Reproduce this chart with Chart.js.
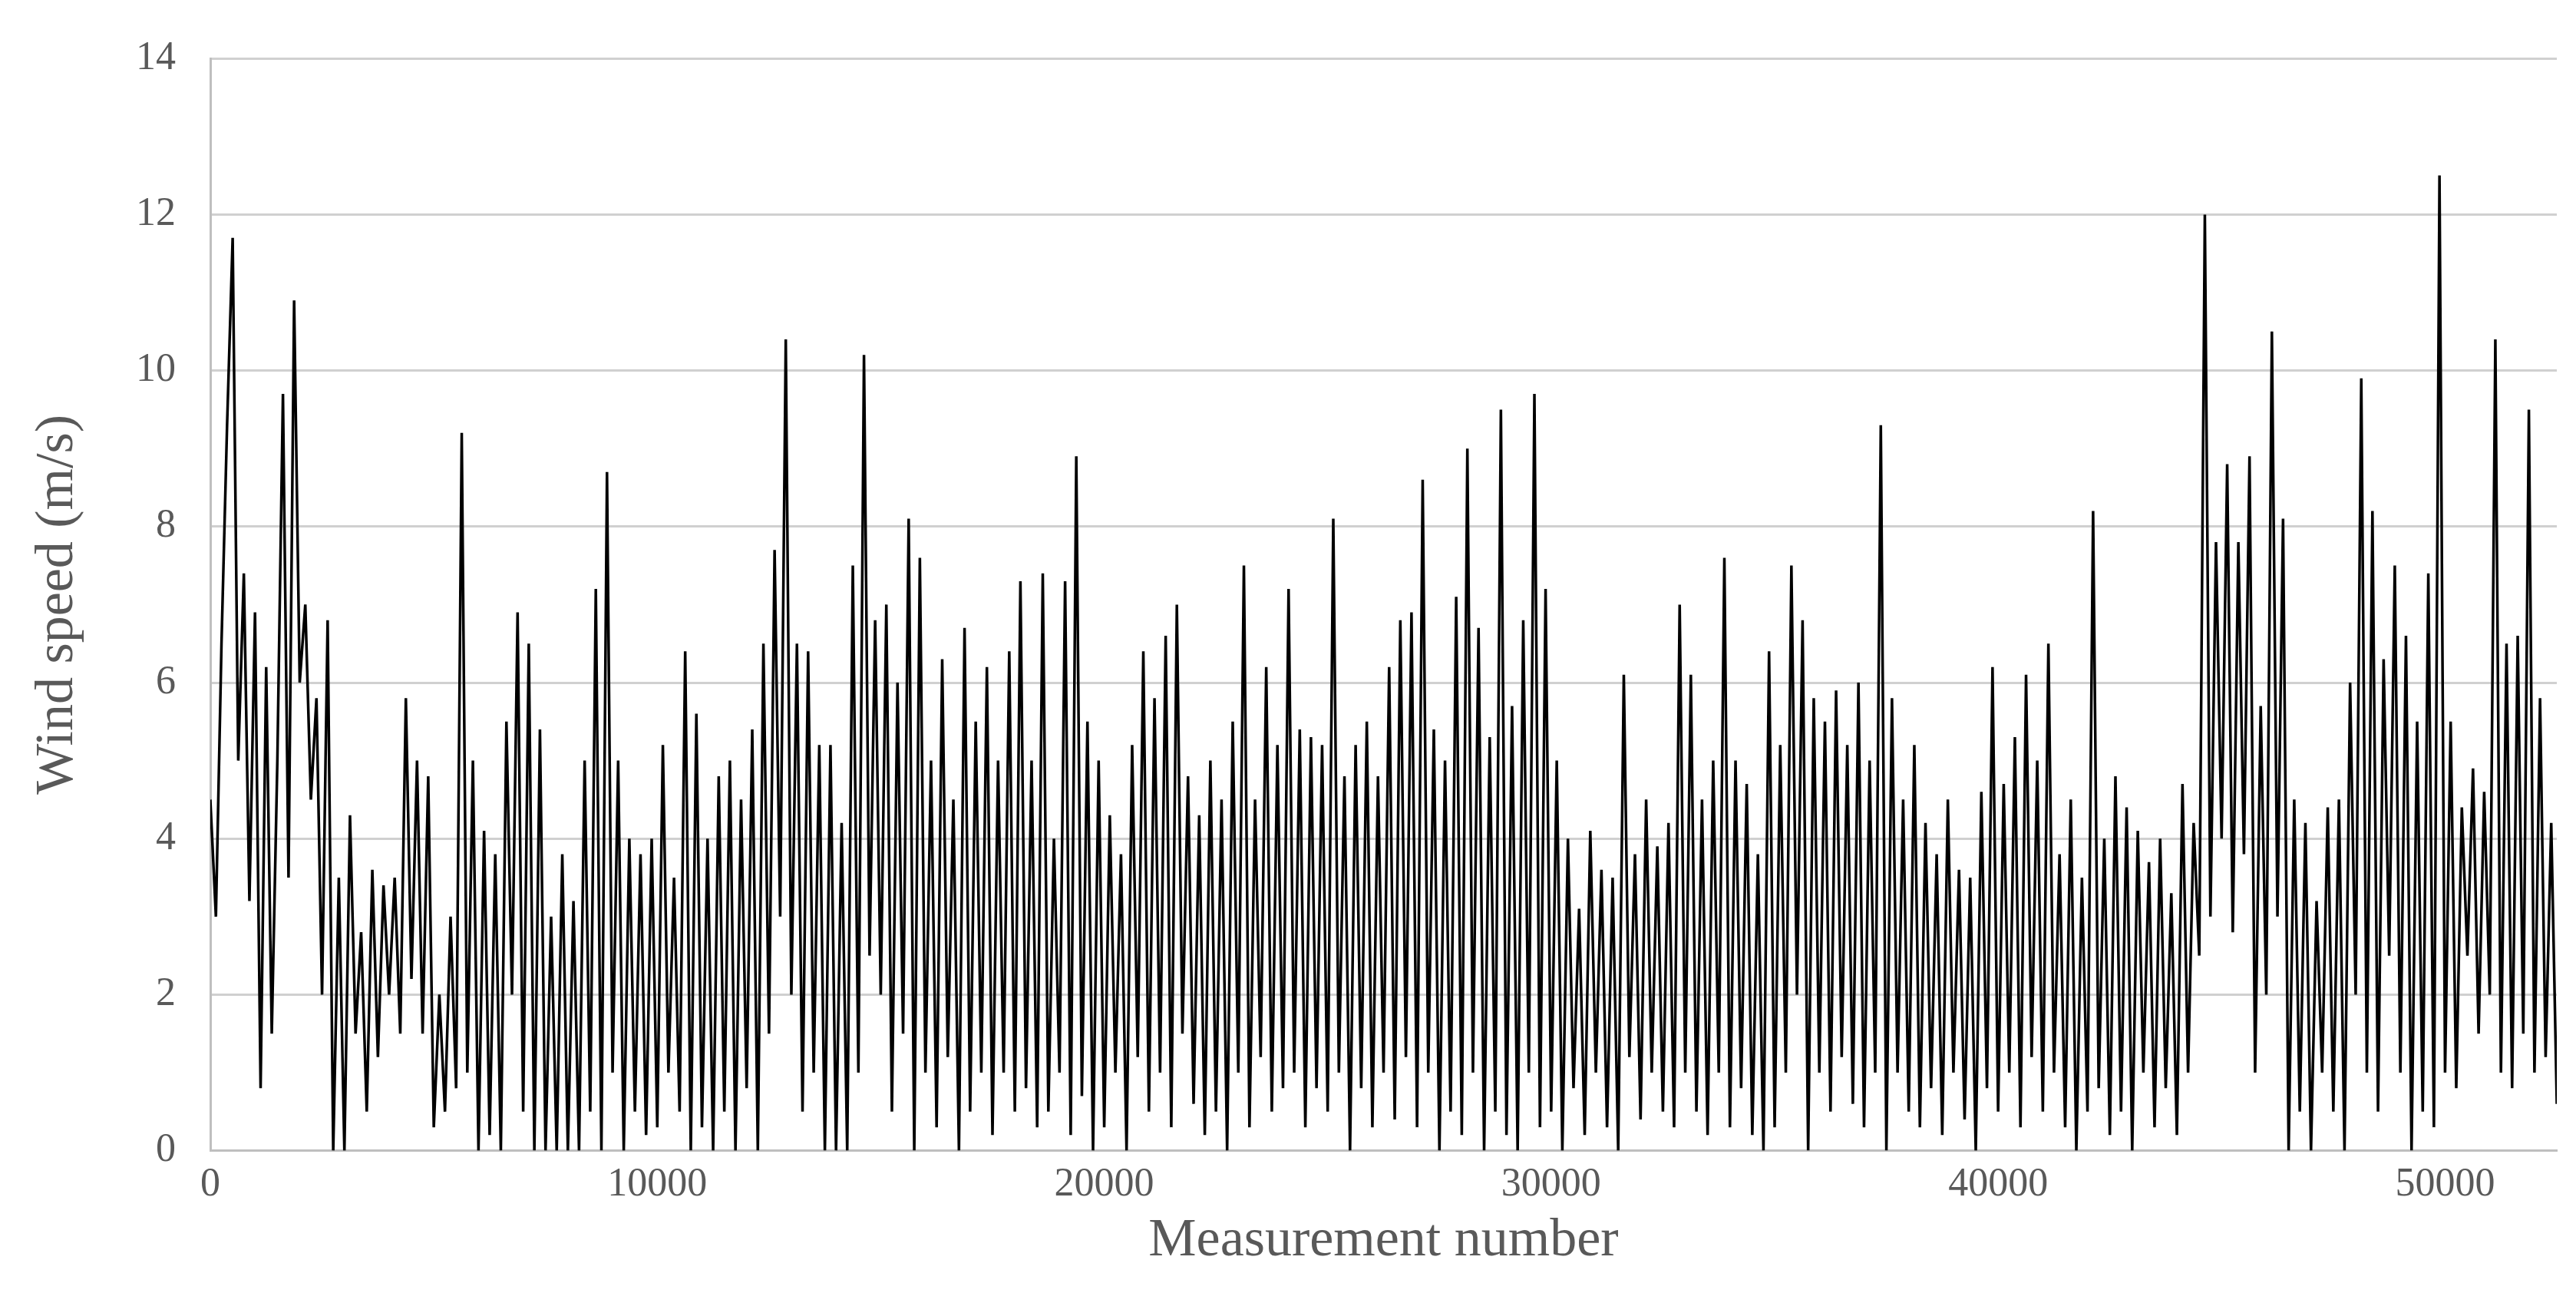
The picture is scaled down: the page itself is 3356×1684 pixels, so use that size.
<!DOCTYPE html>
<html><head><meta charset="utf-8">
<script src="https://cdn.jsdelivr.net/npm/chart.js@4"></script>
<style>html,body{margin:0;padding:0;background:#fff}#w{width:3356px;height:1684px}</style>
</head><body><div id="w"><canvas id="c"></canvas></div>
<script>
const stepMeasurements = 125;
const windSpeed = [
4.5,3,6.5,9.3,11.7,5,7.4,3.2,6.9,0.8,6.2,1.5,5,9.7,3.5,10.9,6,7,4.5,5.8,
2,6.8,0,3.5,0,4.3,1.5,2.8,0.5,3.6,1.2,3.4,2,3.5,1.5,5.8,2.2,5,1.5,4.8,
0.3,2,0.5,3,0.8,9.2,1,5,0,4.1,0.2,3.8,0,5.5,2,6.9,0.5,6.5,0,5.4,
0,3,0,3.8,0,3.2,0,5,0.5,7.2,0,8.7,1,5,0,4,0.5,3.8,0.2,4,
0.3,5.2,1,3.5,0.5,6.4,0,5.6,0.3,4,0,4.8,0.5,5,0,4.5,0.8,5.4,0,6.5,
1.5,7.7,3,10.4,2,6.5,0.5,6.4,1,5.2,0,5.2,0,4.2,0,7.5,1,10.2,2.5,6.8,
2,7,0.5,6,1.5,8.1,0,7.6,1,5,0.3,6.3,1.2,4.5,0,6.7,0.5,5.5,1,6.2,
0.2,5,1,6.4,0.5,7.3,0.8,5,0.3,7.4,0.5,4,1,7.3,0.2,8.9,0.7,5.5,0,5,
0.3,4.3,1,3.8,0,5.2,1.2,6.4,0.5,5.8,1,6.6,0.3,7,1.5,4.8,0.6,4.3,0.2,5,
0.5,4.5,0,5.5,1,7.5,0.3,4.5,1.2,6.2,0.5,5.2,0.8,7.2,1,5.4,0.3,5.3,0.8,5.2,
0.5,8.1,1,4.8,0,5.2,0.8,5.5,0.3,4.8,1,6.2,0.4,6.8,1.2,6.9,0.3,8.6,1,5.4,
0,5,0.5,7.1,0.2,9,1,6.7,0,5.3,0.5,9.5,0.2,5.7,0,6.8,1,9.7,0.3,7.2,
0.5,5,0,4,0.8,3.1,0.2,4.1,1,3.6,0.3,3.5,0,6.1,1.2,3.8,0.4,4.5,1,3.9,
0.5,4.2,0.3,7,1,6.1,0.5,4.5,0.2,5,1,7.6,0.3,5,0.8,4.7,0.2,3.8,0,6.4,
0.3,5.2,1,7.5,2,6.8,0,5.8,1,5.5,0.5,5.9,1.2,5.2,0.6,6,0.3,5,1,9.3,
0,5.8,1,4.5,0.5,5.2,0.3,4.2,0.8,3.8,0.2,4.5,1,3.6,0.4,3.5,0,4.6,0.8,6.2,
0.5,4.7,1,5.3,0.3,6.1,1.2,5,0.5,6.5,1,3.8,0.3,4.5,0,3.5,0.5,8.2,0.8,4,
0.2,4.8,0.5,4.4,0,4.1,1,3.7,0.3,4,0.8,3.3,0.2,4.7,1,4.2,2.5,12,3,7.8,
4,8.8,2.8,7.8,3.8,8.9,1,5.7,2,10.5,3,8.1,0,4.5,0.5,4.2,0,3.2,1,4.4,
0.5,4.5,0,6,2,9.9,1,8.2,0.5,6.3,2.5,7.5,1,6.6,0,5.5,0.5,7.4,0.3,12.5,
1,5.5,0.8,4.4,2.5,4.9,1.5,4.6,2,10.4,1,6.5,0.8,6.6,1.5,9.5,1,5.8,1.2,4.2,0.6
];
const measurementNumbers = windSpeed.map((_, i) => i * stepMeasurements);
const xTicks = [0,10000,20000,30000,40000,50000];
const yTicks = [0,2,4,6,8,10,12,14];
const points = windSpeed.map((v,i)=>({x:measurementNumbers[i], y:v}));
const font = "'Liberation Serif','Times New Roman',serif";
new Chart(document.getElementById('c'), {
  type:'line',
  data:{datasets:[{data:points,borderColor:'#000',borderWidth:3.5,pointRadius:0,tension:0}]},
  options:{
    responsive:true, maintainAspectRatio:false, animation:false,
    layout:{padding:{left:30,right:25,top:40,bottom:25}},
    plugins:{legend:{display:false},tooltip:{enabled:false}},
    scales:{
      x:{type:'linear',min:0,max:52500,
        afterBuildTicks:s=>{s.ticks=xTicks.map(v=>({value:v}));},
        grid:{display:false,drawTicks:false},
        border:{color:'#bfbfbf',width:3},
        ticks:{color:'#595959',font:{family:font,size:52},padding:14,callback:v=>String(v)},
        title:{display:true,text:'Measurement number',color:'#595959',font:{family:font,size:70},padding:{top:-14,bottom:0}}},
      y:{min:0,max:14,
        afterBuildTicks:s=>{s.ticks=yTicks.map(v=>({value:v}));},
        grid:{color:'#d0d0d0',lineWidth:3,drawTicks:false},
        border:{display:true,color:'#bfbfbf',width:3},
        ticks:{color:'#595959',font:{family:font,size:52},padding:45},
        title:{display:true,text:'Wind speed (m/s)',color:'#595959',font:{family:font,size:70},padding:{bottom:14}}}
    }
  }
});
</script></body></html>
